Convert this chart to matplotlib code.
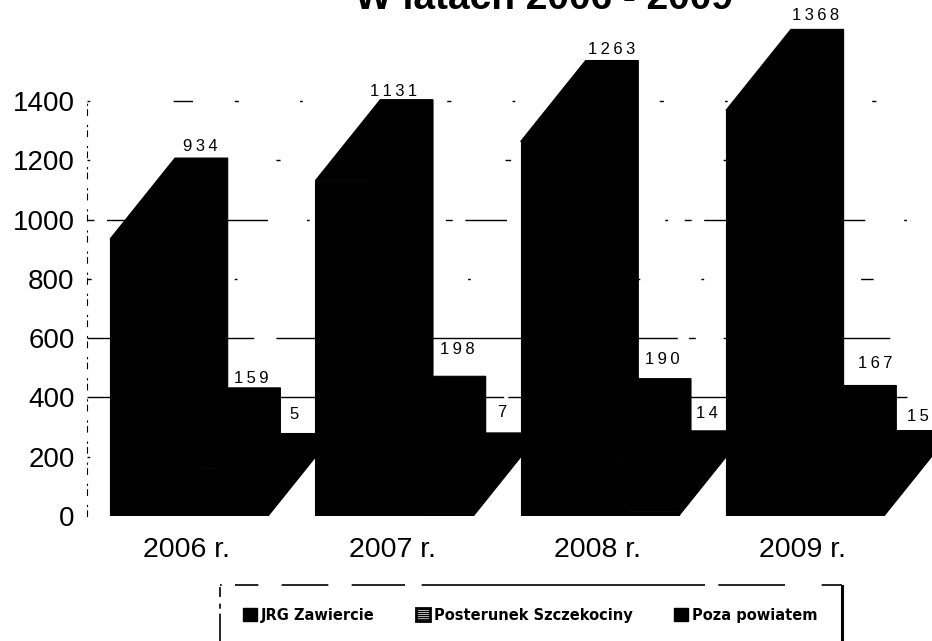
import matplotlib
matplotlib.use("Agg")
import matplotlib.pyplot as plt
from matplotlib.lines import Line2D
from matplotlib.patches import Patch

plt.rcParams["font.family"] = ["Liberation Sans", "DejaVu Sans"]

YEARS = ["2006 r.", "2007 r.", "2008 r.", "2009 r."]
SERIES = ["JRG Zawiercie", "Posterunek Szczekociny", "Poza powiatem"]
JRG = [934, 1131, 1263, 1368]
POSTERUNEK = [159, 198, 190, 167]
POZA = [5, 7, 14, 15]
Y_TICKS = [0, 200, 400, 600, 800, 1000, 1200, 1400]

# axes geometry (pixels)
W, H = 932, 641
LEFT, BASE = 87, 516
PX_PER_UNIT = 0.2965
GROUP_PX = 205.3
FIRST_BAR_PX = 110

# 3d extrusion in data units
BAR_W = 52.7 / GROUP_PX
DEPTH_X = 65 / GROUP_PX
DEPTH_Y = 81 / PX_PER_UNIT

# label shift from the top-back centre of each bar (pixels), hand placed
LABEL_DX = [[-1, -13, 0, -2], [-3, -2, -2, 5], [-13, -10, -10, -5]]
LABEL_DY = [[12, 8, 11, 14], [9, 27, 19, 22], [19, 20, 17, 14]]

# the scan broke the gridlines up, every one differently
GRID_DASHES = {
    200: (0, (2, 40, 6, 60, 1, 38)),
    400: (0, (300, 3, 200, 2)),
    600: (0, (120, 16, 60, 8, 5, 20)),
    800: (0, (3, 50, 9, 44, 2, 60)),
    1000: (0, (5, 9, 30, 28, 2, 12)),
    1200: (0, (2, 70, 4, 60, 3, 90)),
    1400: (0, (2, 60, 14, 30, 3, 44)),
}

fig = plt.figure(figsize=(W / 100, H / 100), dpi=100)
ax = fig.add_axes([LEFT / W, 1 - BASE / H, 1 - LEFT / W, BASE / H])
ax.set_xlim((LEFT - FIRST_BAR_PX) / GROUP_PX, (W - FIRST_BAR_PX) / GROUP_PX)
ax.set_ylim(0, BASE / PX_PER_UNIT)

for v, ls in GRID_DASHES.items():
    ax.axhline(v, xmax=0.97, color="black", lw=1, ls=ls, zorder=1)

for s, values in enumerate([JRG, POSTERUNEK, POZA]):
    for g, v in enumerate(values):
        x0 = g + s * BAR_W
        x1 = x0 + BAR_W
        ax.bar(x0, v, width=BAR_W, align="edge", color="black", edgecolor="black",
               lw=0.8, zorder=2)
        # top and side faces
        ax.fill([x0, x0 + DEPTH_X, x1 + DEPTH_X, x1 + DEPTH_X, x1, x1],
                [v, v + DEPTH_Y, v + DEPTH_Y, DEPTH_Y, 0, v],
                facecolor="black", edgecolor="black", lw=0.8, zorder=2)

for s, values in enumerate([JRG, POSTERUNEK, POZA]):
    for g, v in enumerate(values):
        xc = g + s * BAR_W + BAR_W / 2 + DEPTH_X + LABEL_DX[s][g] / GROUP_PX
        yc = v + DEPTH_Y + LABEL_DY[s][g] / PX_PER_UNIT
        ax.text(xc, yc, "\u2009".join(str(v)), ha="center", va="center", fontsize=12,
                color="black", zorder=10, clip_on=False)

ax.set_yticks(Y_TICKS, labels=[str(t) for t in Y_TICKS])
ax.set_xticks([g + 0.375 for g in range(len(YEARS))], labels=YEARS)
ax.tick_params(axis="y", length=0, pad=9, labelsize=20)
ax.tick_params(axis="x", length=0, pad=15, labelsize=20.5)

for side in ["top", "right", "bottom"]:
    ax.spines[side].set_visible(False)
ax.spines["left"].set_bounds(0, 1400)
ax.spines["left"].set_linestyle((0, (5, 4, 1, 9)))

fig.text(544 / W, 1 - 9 / H, "W latach 2006 - 2009", ha="center", va="baseline",
         fontsize=28, fontweight="bold")

handles = [Patch(facecolor="black", edgecolor="black", label=SERIES[0]),
           Patch(facecolor="white", edgecolor="black", hatch="--------", lw=2, label=SERIES[1]),
           Patch(facecolor="black", edgecolor="black", label=SERIES[2])]
fig.legend(handles=handles, ncol=3, loc="upper left",
           bbox_to_anchor=(220 / W, 1 - 585 / H), frameon=False, borderaxespad=0,
           borderpad=1.55, handlelength=0.96, handleheight=0.96, handletextpad=0.3,
           columnspacing=2.8, prop={"family": "DejaVu Sans", "size": 10.5, "weight": "bold"})

# legend box runs off the bottom of the scan
fig.add_artist(Line2D([220 / W, 842 / W], [1 - 585 / H] * 2, color="black", lw=1.2,
                      ls=(0, (1, 8, 14, 14, 28, 14, 32, 10, 170, 8, 40, 22, 30, 5))))
fig.add_artist(Line2D([220 / W] * 2, [1 - 587 / H, 0], color="black", lw=1.2,
                      ls=(0, (6, 4, 3, 3, 70))))
fig.add_artist(Line2D([842 / W] * 2, [1 - 586 / H, 0], color="black", lw=2.2))

fig.savefig("out.png", dpi=100)
